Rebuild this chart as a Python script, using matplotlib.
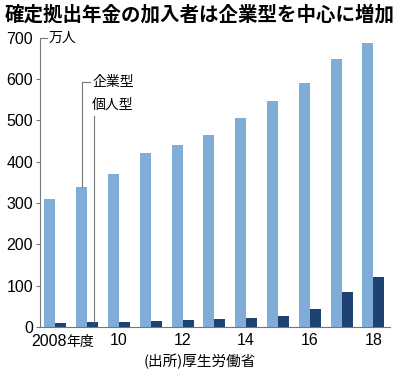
import matplotlib
matplotlib.use("Agg")
import matplotlib.pyplot as plt
import numpy as np

plt.rcParams["font.family"] = ["Liberation Sans", "Noto Sans CJK JP", "DejaVu Sans"]

years = ["2008", "09", "10", "11", "12", "13", "14", "15", "16", "17", "18"]
kigyo = [311, 340, 371, 422, 440, 464, 505, 548, 591, 648, 688]
kojin = [10, 11, 13, 15, 16, 19, 22, 26, 43, 85, 121]
yticks = [0, 100, 200, 300, 400, 500, 600, 700]
xlabels = ["2008", "", "10", "", "12", "", "14", "", "16", "", "18"]

light = "#7fadd8"
dark = "#1e4272"
gray = "#777777"
jp = ["Noto Sans CJK JP", "DejaVu Sans"]

fig = plt.figure(figsize=(4, 3.75), dpi=100)
ax = fig.add_axes([0.1, 0.128, 0.875, 0.771])

x = np.arange(len(years))
w = 0.346
ax.bar(x - w / 2, kigyo, w, color=light)
ax.bar(x + w / 2, kojin, w, color=dark)

ax.set_xlim(-0.48, 10.52)
ax.set_ylim(0, 700)
ax.set_yticks(yticks)
ax.set_yticklabels([str(v) for v in yticks], fontsize=11.5)
ax.set_xticks(x)
ax.set_xticklabels(xlabels, fontsize=11.5)
ax.tick_params(axis="x", length=0, pad=4)
ax.tick_params(axis="y", length=3, width=0.8, color=gray, pad=2)
ax.yaxis.get_major_ticks()[-1].tick1line.set_visible(False)

# 2008年度 label
ax.get_xticklabels()[0].set_visible(False)
ax.annotate("2008", xy=(0, 0), xycoords=("data", "axes fraction"),
            xytext=(8, -5), textcoords="offset points",
            ha="right", va="top", fontsize=11.5)
ax.annotate("年度", xy=(0, 0), xycoords=("data", "axes fraction"),
            xytext=(8, -5.5), textcoords="offset points",
            ha="left", va="top", fontsize=10, family=jp)

for s in ["top", "right"]:
    ax.spines[s].set_visible(False)
for s in ["left", "bottom"]:
    ax.spines[s].set_color(gray)
    ax.spines[s].set_linewidth(0.8)

# unit
ax.plot([-0.48, -0.26], [700, 700], color=gray, lw=0.8, clip_on=False)
ax.text(-0.21, 700, "万人", fontsize=10, family=jp, va="center", ha="left")

# leader labels
ax.plot([0.84, 0.84, 1.09], [kigyo[1], 593, 593], color=gray, lw=0.8)
ax.text(1.16, 593, "企業型", fontsize=10, family=jp, va="center", ha="left")
ax.plot([1.22, 1.22], [kojin[1], 511], color=gray, lw=0.8)
ax.text(1.16, 537, "個人型", fontsize=10, family=jp, va="center", ha="left")

fig.text(0.012, 0.962, "確定拠出年金の加入者は企業型を中心に増加",
         fontsize=14, weight="bold", family=jp, va="center", ha="left")
fig.text(0.5, 0.035, "(出所)厚生労働省", fontsize=10.5, family=jp,
         va="center", ha="center")

fig.savefig("out.png", dpi=100)
